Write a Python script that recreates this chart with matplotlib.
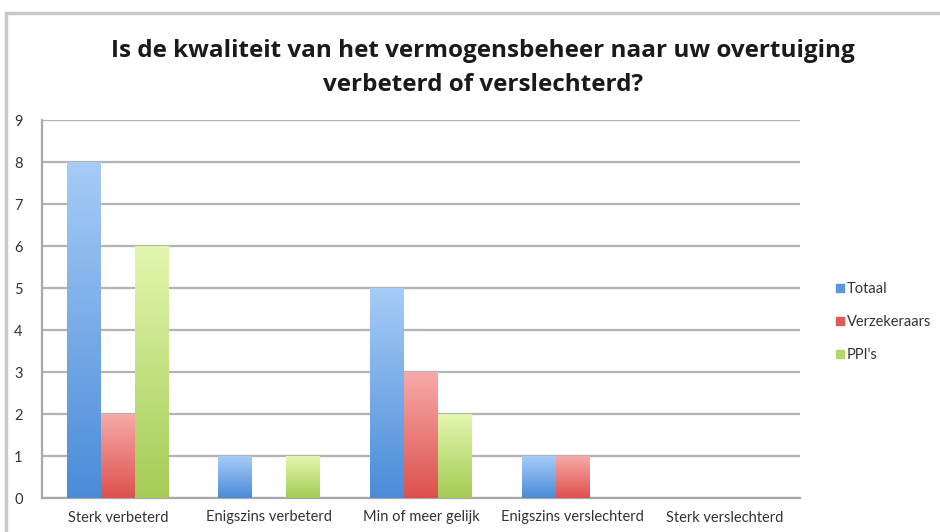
import numpy as np
import matplotlib.pyplot as plt
from matplotlib.colors import LinearSegmentedColormap
from matplotlib.patches import Rectangle

categories = ['Sterk verbeterd', 'Enigszins verbeterd', 'Min of meer gelijk',
              'Enigszins verslechterd', 'Sterk verslechterd']
totaal = [8, 1, 5, 1, 0]
verzekeraars = [2, 0, 3, 1, 0]
ppis = [6, 1, 2, 0, 0]
series_names = ['Totaal', 'Verzekeraars', "PPI's"]
y_ticks = list(range(0, 10))

# (top colour, bottom colour) for the gradient fill
grad_colors = [('#a6ccf7', '#4a8bd8'),
               ('#f7aaa8', '#dc514d'),
               ('#e2f7ae', '#a5cb55')]
legend_colors = ['#5b95dc', '#e05a57', '#b0d866']

plt.rcParams['font.family'] = ['Lato', 'DejaVu Sans']

fig = plt.figure(figsize=(9.4, 5.32), dpi=100)
fig.patches.append(Rectangle((6 / 940, -0.1), 1.1, (532 - 13) / 532 + 0.1,
                             transform=fig.transFigure, fill=False,
                             edgecolor='#c8c8c8', linewidth=2.5))
ax = fig.add_axes([42 / 940, 34 / 532, 758 / 940, 378 / 532])

fig.text(0.514, (532 - 68) / 532,
         'Is de kwaliteit van het vermogensbeheer naar uw overtuiging\nverbeterd of verslechterd?',
         ha='center', va='center', fontsize=17.5, fontweight='bold', linespacing=1.55,
         color='#1a1a1a', family=['Open Sans', 'DejaVu Sans'])

x = np.arange(len(categories))
width = 0.224
data = [totaal, verzekeraars, ppis]
grad = np.linspace(0, 1, 256).reshape(-1, 1)

for i, vals in enumerate(data):
    bars = ax.bar(x + (i - 1) * width, vals, width, color=legend_colors[i],
                  label=series_names[i], zorder=3, linewidth=0)
    cmap = LinearSegmentedColormap.from_list('g%d' % i, [grad_colors[i][1], grad_colors[i][0]])
    for b in bars:
        h = b.get_height()
        if h <= 0:
            continue
        bx, bw = b.get_x(), b.get_width()
        im = ax.imshow(grad, cmap=cmap, aspect='auto', origin='lower',
                       extent=[bx, bx + bw, 0, h], zorder=4)
        im.set_clip_path(b)
        b.set_alpha(0)

ax.set_xlim(-0.5, len(categories) - 0.5)
ax.set_ylim(0, 9)
ax.set_yticks(y_ticks)
ax.set_yticklabels([str(t) for t in y_ticks])
ax.set_xticks(x)
ax.set_xticklabels(categories)
ax.yaxis.grid(True, color='#b3b3b3', linewidth=1.6, zorder=0)
ax.set_axisbelow(True)
for s in ['top', 'right']:
    ax.spines[s].set_visible(False)
for s in ['left', 'bottom']:
    ax.spines[s].set_color('#a8a8a8')
    ax.spines[s].set_linewidth(1.6)
ax.tick_params(axis='both', length=0, labelsize=10.5, colors='#333333')
ax.tick_params(axis='y', pad=14)
ax.tick_params(axis='x', pad=9)

handles = [Rectangle((0, 0), 1, 1, color=c) for c in legend_colors]
leg = fig.legend(handles, series_names, loc='center left',
                 bbox_to_anchor=(829 / 940, (532 - 322) / 532),
                 frameon=False, fontsize=10.5, handlelength=0.5, handleheight=0.5,
                 handletextpad=0.2, labelspacing=1.3, borderpad=0)
for t in leg.get_texts():
    t.set_color('#333333')

fig.savefig('out.png', dpi=100)
